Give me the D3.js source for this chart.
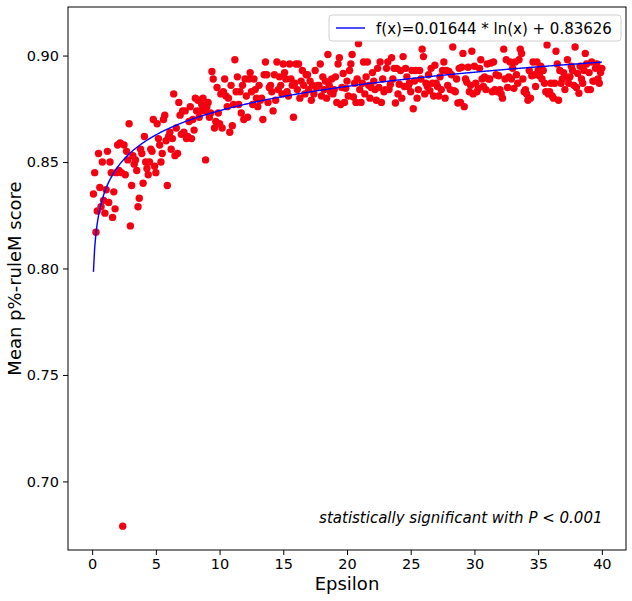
<!DOCTYPE html>
<html>
<head>
<meta charset="utf-8">
<style>
body { margin: 0; background: #fff; }
text { font-family: "DejaVu Sans", sans-serif; fill: #000; }
</style>
</head>
<body>
<svg width="632" height="601"></svg>
<script src="https://d3js.org/d3.v7.min.js"></script>
<script>
  // epsilon runs 0.1 .. 40.0 in steps of 0.1, one row per unit of epsilon
  var scoreRows = [
    [0.835, 0.845, 0.817, 0.827, 0.854, 0.838, 0.829, 0.850, 0.832, 0.826],
    [0.837, 0.855, 0.831, 0.850, 0.845, 0.824, 0.836, 0.828, 0.845, 0.858],
    [0.846, 0.859, 0.845, 0.679, 0.858, 0.844, 0.855, 0.851, 0.868, 0.820],
    [0.839, 0.853, 0.849, 0.851, 0.846, 0.829, 0.833, 0.856, 0.854, 0.840],
    [0.862, 0.850, 0.847, 0.844, 0.850, 0.856, 0.855, 0.870, 0.848, 0.845],
    [0.868, 0.861, 0.858, 0.850, 0.854, 0.870, 0.872, 0.860, 0.839, 0.862],
    [0.864, 0.856, 0.861, 0.882, 0.853, 0.866, 0.854, 0.878, 0.872, 0.863],
    [0.874, 0.864, 0.874, 0.861, 0.862, 0.869, 0.876, 0.861, 0.870, 0.865],
    [0.880, 0.874, 0.879, 0.871, 0.874, 0.877, 0.880, 0.874, 0.851, 0.876],
    [0.878, 0.871, 0.873, 0.8925, 0.889, 0.866, 0.869, 0.885, 0.873, 0.868],
    [0.882, 0.866, 0.883, 0.889, 0.881, 0.876, 0.880, 0.864, 0.886, 0.867],
    [0.877, 0.898, 0.883, 0.890, 0.877, 0.883, 0.873, 0.886, 0.870, 0.889],
    [0.881, 0.871, 0.889, 0.892, 0.883, 0.877, 0.889, 0.884, 0.880, 0.876],
    [0.886, 0.879, 0.880, 0.870, 0.891, 0.897, 0.891, 0.878, 0.885, 0.886],
    [0.883, 0.874, 0.891, 0.879, 0.897, 0.884, 0.890, 0.886, 0.882, 0.896],
    [0.892, 0.889, 0.883, 0.881, 0.896, 0.889, 0.886, 0.871, 0.887, 0.896],
    [0.884, 0.896, 0.880, 0.888, 0.893, 0.886, 0.882, 0.891, 0.891, 0.884],
    [0.888, 0.879, 0.886, 0.882, 0.893, 0.885, 0.886, 0.886, 0.896, 0.881],
    [0.890, 0.884, 0.888, 0.880, 0.9005, 0.886, 0.883, 0.889, 0.882, 0.884],
    [0.890, 0.878, 0.896, 0.899, 0.877, 0.885, 0.8916, 0.878, 0.8846, 0.888],
    [0.881, 0.893, 0.896, 0.9005, 0.8805, 0.887, 0.878, 0.889, 0.9056, 0.884],
    [0.878, 0.887, 0.897, 0.882, 0.890, 0.897, 0.886, 0.880, 0.885, 0.892],
    [0.888, 0.884, 0.879, 0.894, 0.885, 0.897, 0.878, 0.889, 0.883, 0.884],
    [0.894, 0.897, 0.884, 0.8864, 0.899, 0.889, 0.894, 0.8777, 0.894, 0.882],
    [0.8865, 0.893, 0.880, 0.8995, 0.8855, 0.894, 0.890, 0.8855, 0.887, 0.883],
    [0.893, 0.875, 0.888, 0.893, 0.880, 0.884, 0.893, 0.889, 0.903, 0.8995],
    [0.882, 0.887, 0.8855, 0.891, 0.8835, 0.894, 0.887, 0.881, 0.8955, 0.887],
    [0.8855, 0.881, 0.890, 0.884, 0.893, 0.897, 0.880, 0.893, 0.886, 0.8925],
    [0.884, 0.891, 0.904, 0.8835, 0.883, 0.889, 0.8777, 0.894, 0.878, 0.8945],
    [0.901, 0.876, 0.889, 0.8875, 0.8945, 0.883, 0.886, 0.902, 0.882, 0.895],
    [0.887, 0.883, 0.8845, 0.894, 0.898, 0.889, 0.8855, 0.890, 0.884, 0.896],
    [0.889, 0.889, 0.8965, 0.883, 0.897, 0.884, 0.891, 0.883, 0.8905, 0.884],
    [0.882, 0.880, 0.903, 0.889, 0.898, 0.885, 0.890, 0.897, 0.889, 0.894],
    [0.8846, 0.897, 0.891, 0.887, 0.898, 0.903, 0.901, 0.889, 0.883, 0.884],
    [0.882, 0.879, 0.893, 0.880, 0.8905, 0.897, 0.891, 0.8855, 0.897, 0.893],
    [0.8905, 0.895, 0.889, 0.893, 0.887, 0.883, 0.905, 0.882, 0.883, 0.887],
    [0.881, 0.880, 0.887, 0.902, 0.896, 0.879, 0.893, 0.887, 0.889, 0.892],
    [0.884, 0.890, 0.898, 0.887, 0.890, 0.895, 0.893, 0.886, 0.904, 0.885],
    [0.8916, 0.8823, 0.895, 0.889, 0.887, 0.893, 0.901, 0.896, 0.884, 0.892],
    [0.884, 0.897, 0.888, 0.888, 0.894, 0.896, 0.889, 0.887, 0.892, 0.894]
  ];

  var fitA = 0.01644, fitB = 0.83626;
  var xTicks = [0, 5, 10, 15, 20, 25, 30, 35, 40];
  var yTicks = [0.70, 0.75, 0.80, 0.85, 0.90];
  var legendLabel = "f(x)=0.01644 * ln(x) + 0.83626";
  var noteLabel = "statistically significant with P < 0.001";

  var points = [];
  scoreRows.forEach(function(row, r) {
    row.forEach(function(v, c) {
      points.push({eps: +((r * 10 + c + 1) / 10).toFixed(1), score: v});
    });
  });

  var svg = d3.select("svg"),
    margin = {left: 68, right: 6, top: 7, bottom: 51},
    width = +svg.attr("width") - margin.left - margin.right,
    height = +svg.attr("height") - margin.top - margin.bottom;

  var x = d3.scaleLinear().domain([-1.895, 41.895]).range([0, width]);
  var y = d3.scaleLinear().domain([0.6678, 0.9228]).range([height, 0]);

  var g = svg.append("g").attr("transform", "translate(" + margin.left + "," + margin.top + ")");

  g.append("g")
    .selectAll("circle")
    .data(points)
    .enter().append("circle")
    .attr("cx", function(d) { return x(d.eps); })
    .attr("cy", function(d) { return y(d.score); })
    .attr("r", 3.7)
    .attr("fill", "#f50010");

  var fit = points.map(function(d) { return {eps: d.eps, v: fitA * Math.log(d.eps) + fitB}; });
  g.append("path")
    .datum(fit)
    .attr("fill", "none")
    .attr("stroke", "#0000ff")
    .attr("stroke-width", 1.4)
    .attr("d", d3.line().x(function(d) { return x(d.eps); }).y(function(d) { return y(d.v); }));

  var xAxis = g.append("g")
    .attr("transform", "translate(0," + height + ")")
    .call(d3.axisBottom(x).tickValues(xTicks).tickSize(5).tickPadding(4));
  var yAxis = g.append("g")
    .call(d3.axisLeft(y).tickValues(yTicks).tickFormat(d3.format(".2f")).tickSize(5).tickPadding(4));
  [xAxis, yAxis].forEach(function(a) {
    a.attr("font-size", null).attr("font-family", null);
    a.select(".domain").remove();
    a.selectAll(".tick line").attr("stroke", "#000");
    a.selectAll(".tick text").style("font-size", "14.5px").attr("fill", "#000");
  });

  g.append("rect")
    .attr("width", width).attr("height", height)
    .attr("fill", "none").attr("stroke", "#000").attr("stroke-width", 1);

  // legend
  var lg = g.append("g").attr("transform", "translate(" + (width - 297) + ",8)");
  lg.append("rect")
    .attr("width", 292).attr("height", 26).attr("rx", 3)
    .attr("fill", "#fff").attr("fill-opacity", 0.8)
    .attr("stroke", "#d0d0d0");
  lg.append("line")
    .attr("x1", 7).attr("x2", 36).attr("y1", 13).attr("y2", 13)
    .attr("stroke", "#0000ff").attr("stroke-width", 1.4);
  lg.append("text")
    .attr("x", 47).attr("y", 18.5)
    .style("font-size", "15px")
    .text(legendLabel);

  g.append("text")
    .attr("x", x(40.05)).attr("y", y(0.6804))
    .attr("text-anchor", "end")
    .style("font-size", "15px").style("font-style", "italic")
    .text(noteLabel);

  svg.append("text")
    .attr("x", margin.left + width / 2).attr("y", 590)
    .attr("text-anchor", "middle")
    .style("font-size", "18px")
    .text("Epsilon");

  svg.append("text")
    .attr("transform", "translate(21," + (margin.top + height / 2) + ") rotate(-90)")
    .attr("text-anchor", "middle")
    .style("font-size", "18px")
    .text("Mean p%-ruleM score");
</script>
</body>
</html>
